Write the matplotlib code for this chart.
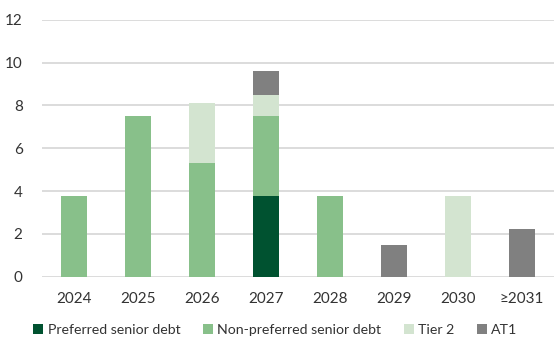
import matplotlib.pyplot as plt
import numpy as np

plt.rcParams['font.family'] = ['Lato', 'DejaVu Sans']

years = ['2024', '2025', '2026', '2027', '2028', '2029', '2030', '≥2031']
preferred = [0, 0, 0, 3.75, 0, 0, 0, 0]
non_preferred = [3.75, 7.5, 5.3, 3.75, 3.75, 0, 0, 0]
tier2 = [0, 0, 2.8, 1.0, 0, 0, 3.75, 0]
at1 = [0, 0, 0, 1.1, 0, 1.5, 0, 2.25]

series = [
    ('Preferred senior debt', preferred, '#005230'),
    ('Non-preferred senior debt', non_preferred, '#88c08a'),
    ('Tier 2', tier2, '#d3e4d0'),
    ('AT1', at1, '#808080'),
]

fig = plt.figure(figsize=(5.54, 3.42), dpi=100)
ax = fig.add_axes([0.076, 0.191, 0.924, 0.751])

x = np.arange(len(years))
bottom = np.zeros(len(years))
for name, vals, col in series:
    vals = np.array(vals)
    ax.bar(x, vals, 0.4, bottom=bottom, color=col, label=name, zorder=3)
    bottom += vals

ax.set_ylim(0, 12)
ax.set_xlim(-0.5, len(years) - 0.5)
ax.set_yticks(range(0, 13, 2))
ax.set_xticks(x)
ax.set_xticklabels(years)
ax.yaxis.grid(True, color='#d9d9d9', linewidth=1.3, zorder=0)
for s in ax.spines.values():
    s.set_visible(False)
ax.tick_params(length=0, labelsize=11, colors='#333333', pad=11)
ax.tick_params(axis='y', pad=14)

ax.legend(loc='center', ncol=4, frameon=False,
          fontsize=10.2, handlelength=0.7, handleheight=0.7, handletextpad=0.3,
          columnspacing=1.6, labelcolor='#333333',
          bbox_to_anchor=(0.497, 12 / 342), bbox_transform=fig.transFigure)

fig.savefig('out.png', dpi=100)
